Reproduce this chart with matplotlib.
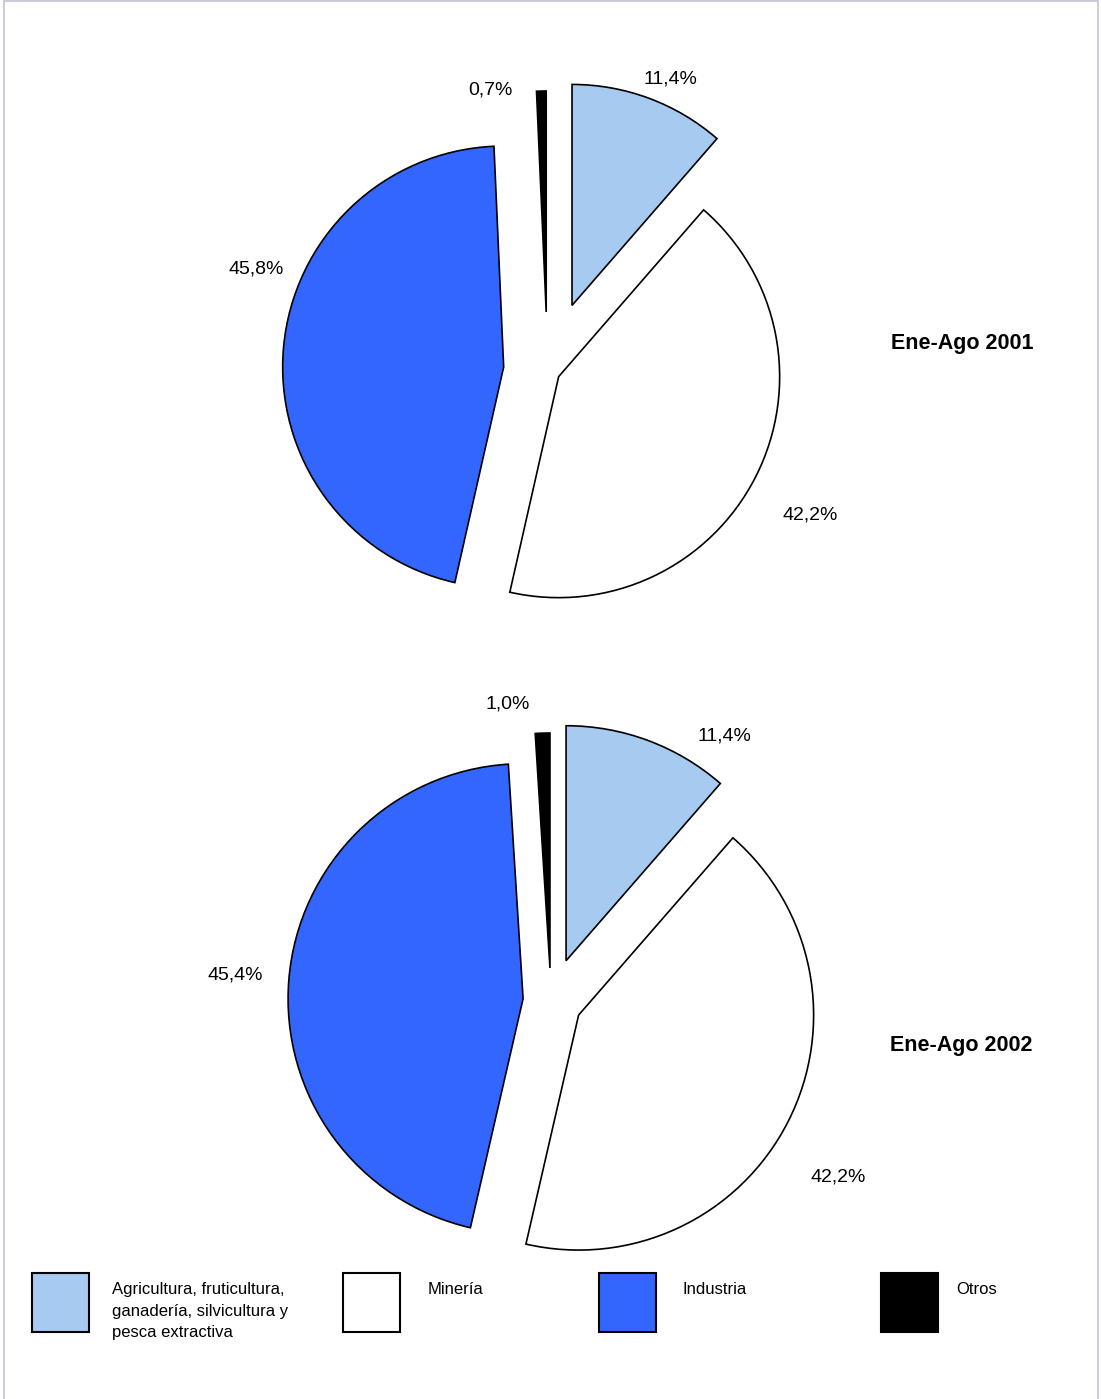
import matplotlib
matplotlib.use('Agg')
import matplotlib.pyplot as plt
import matplotlib.patches as mpatches
from matplotlib.lines import Line2D

plt.rcParams['font.family'] = ['Liberation Sans', 'DejaVu Sans']

CATEGORIES = ['Agricultura, fruticultura,\nganadería, silvicultura y\npesca extractiva',
              'Minería', 'Industria', 'Otros']
COLORS = ['#A6CAF0', '#FFFFFF', '#3366FF', '#000000']

VALUES_2001 = [11.4, 42.2, 45.8, 0.7]
VALUES_2002 = [11.4, 42.2, 45.4, 1.0]
TITLES = ['Ene-Ago 2001', 'Ene-Ago 2002']

W, H = 1101, 1399


def fmt(v):
    return '{:.1f}%'.format(v).replace('.', ',')


fig = plt.figure(figsize=(W / 100, H / 100), dpi=100)
ax = fig.add_axes([0, 0, 1, 1])

# pie layout in pixel coords (y measured from the top); explode in pixels
pies = [
    {'values': VALUES_2001, 'center': (547.5, 371), 'radius': 221,
     'explode': [70, 12.5, 44, 59],
     'labels': [(670, 79), (810, 515), (256, 269), (490, 90)],
     'title': (962, 343)},
    {'values': VALUES_2002, 'center': (551, 1001), 'radius': 235,
     'explode': [43, 31, 28, 33],
     'labels': [(724, 736), (838, 1177), (235, 975), (508, 704)],
     'title': (961, 1045)},
]

for p, title in zip(pies, TITLES):
    cx, cy = p['center']
    ax.pie(p['values'], explode=p['explode'], colors=COLORS, startangle=90,
           counterclock=False, center=(cx, H - cy), radius=p['radius'],
           wedgeprops={'edgecolor': 'black', 'linewidth': 1.2})
    for v, (lx, ly) in zip(p['values'], p['labels']):
        ax.text(lx, H - ly, fmt(v), ha='center', va='center', fontsize=14)
    tx, ty = p['title']
    ax.text(tx, H - ty, title, ha='center', va='center', fontsize=15.5,
            fontweight='bold')

# legend
legend_x = [32, 343, 599, 881]
text_dx = [80, 85, 83, 75]
for x, dx, label, color in zip(legend_x, text_dx, CATEGORIES, COLORS):
    ax.add_patch(mpatches.Rectangle((x, H - 1332), 57, 59, facecolor=color,
                                    edgecolor='black', linewidth=1.5))
    ax.text(x + dx, H - 1282, label, ha='left', va='top', fontsize=12,
            linespacing=1.55)

ax.set_xlim(0, W)
ax.set_ylim(0, H)
ax.set_aspect('auto')
ax.axis('off')

# light frame around the chart
frame = '#CCCCDD'
for xs, ys in [([4, 4], [0, H]), ([4, 1098], [H - 1, H - 1]), ([1098, 1098], [0, H])]:
    ax.add_line(Line2D(xs, ys, color=frame, linewidth=1.5))

fig.savefig('out.png', dpi=100)
